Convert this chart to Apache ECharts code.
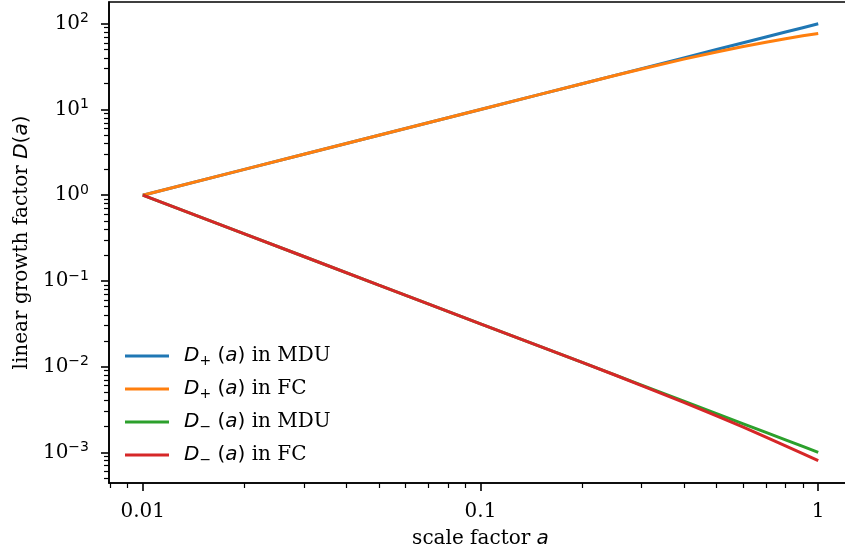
<!DOCTYPE html>
<html>
<head>
<meta charset="utf-8">
<script src="https://cdn.jsdelivr.net/npm/echarts@6/dist/echarts.min.js"></script>
<style>html,body{margin:0;padding:0;background:#fff}#c{width:845px;height:554px}</style>
</head>
<body>
<div id="c"></div>
<script>
// ---- data ----
const scaleFactor = [0.01, 0.02, 0.03, 0.05, 0.07, 0.1, 0.15, 0.2, 0.25, 0.3, 0.4, 0.5, 0.6, 0.7, 0.8, 0.9, 1.0];
const dPlusMDU  = [1, 2, 3, 5, 7, 10, 15, 20, 25, 30, 40, 50, 60, 70, 80, 90, 100];
const dPlusFC   = [1, 2, 3, 5, 7, 10, 15, 20, 24.9, 29.7, 38.7, 46.9, 54.4, 60.9, 66.9, 72.3, 77.1];
const dMinusMDU = [1, 0.3536, 0.1925, 0.0894, 0.054, 0.0316, 0.0172, 0.01118, 0.0080, 0.006086, 0.003953, 0.002828, 0.002152, 0.001707, 0.0013975, 0.001171, 0.001];
const dMinusFC  = [1, 0.3536, 0.1925, 0.0894, 0.054, 0.0316, 0.0172, 0.01118, 0.00798, 0.006007, 0.003827, 0.002667, 0.001965, 0.0015, 0.001186, 0.000963, 0.000798];
const seriesNames = ['D+ MDU', 'D+ FC', 'D- MDU', 'D- FC'];
const legendLabels = {
  'D+ MDU': '{i|D}{sub|+}{p| (}{i|a}{p|)}{r| in MDU}',
  'D+ FC':  '{i|D}{sub|+}{p| (}{i|a}{p|)}{r| in FC}',
  'D- MDU': '{i|D}{sub|\u2212}{p| (}{i|a}{p|)}{r| in MDU}',
  'D- FC':  '{i|D}{sub|\u2212}{p| (}{i|a}{p|)}{r| in FC}'
};
const xTickValues = [0.01, 0.1, 1];
const xTickLabels = ['0.01', '0.1', '1'];
const yTickExponents = [-3, -2, -1, 0, 1, 2];
const colors = ['#1f77b4', '#ff7f0e', '#2ca02c', '#d62728'];

// ---- helpers ----
const L = Math.log10;
const xMin = -2.1, xMax = 0.1;
const yMin = -3.358, yMax = 2.254;
function minorTicks(lo, hi) {
  const out = [];
  for (let n = -5; n <= 3; n++) {
    for (let k = 2; k <= 9; k++) {
      const v = L(k) + n;
      if (v >= lo && v <= hi) out.push(v);
    }
  }
  return out;
}
const serif = 'DejaVu Serif';
const sans = 'DejaVu Sans';
const FS = 20;
const SFS = 14;
const supStyle = { fontFamily: sans, fontSize: SFS, color: '#000', lineHeight: 15, verticalAlign: 'top' };
const tenStyle = { fontFamily: serif, fontSize: FS, color: '#000', lineHeight: 24 };

const allSeries = [dPlusMDU, dPlusFC, dMinusMDU, dMinusFC];
const series = allSeries.map((vals, i) => ({
  name: seriesNames[i],
  type: 'line',
  xAxisIndex: 0,
  yAxisIndex: 0,
  data: scaleFactor.map((a, j) => [L(a), L(vals[j])]),
  showSymbol: false,
  symbol: 'none',
  lineStyle: { width: 3, color: colors[i] },
  itemStyle: { color: colors[i] },
  z: 2 + i,
  animation: false
}));

const chart = echarts.init(document.getElementById('c'), null, { renderer: 'canvas' });
chart.setOption({
  animation: false,
  backgroundColor: '#ffffff',
  grid: {
    left: 109, top: 2, width: 743, bottom: 71,
    outerBoundsMode: 'none', containLabel: false,
    show: true, borderColor: '#000', borderWidth: 1.6, backgroundColor: 'transparent'
  },
  xAxis: [
    {
      type: 'value', min: xMin, max: xMax, position: 'bottom',
      name: '{s|scale factor }{i|a}', nameLocation: 'middle', nameGap: 44,
      nameTextStyle: {
        rich: {
          s: { fontFamily: serif, fontSize: FS, color: '#000', lineHeight: 24 },
          i: { fontFamily: sans, fontStyle: 'italic', fontSize: FS, color: '#000', lineHeight: 24 }
        }
      },
      axisLine: { show: true, onZero: false, lineStyle: { color: '#000', width: 1.6 } },
      axisTick: { show: true, length: 8, lineStyle: { color: '#000', width: 1.6 }, customValues: xTickValues.map(L) },
      axisLabel: {
        show: true, margin: 19, customValues: xTickValues.map(L),
        fontFamily: serif, fontSize: FS, color: '#000',
        formatter: function (v) {
          const idx = xTickValues.findIndex(t => Math.abs(L(t) - v) < 1e-6);
          return idx >= 0 ? xTickLabels[idx] : '';
        }
      },
      splitLine: { show: false }
    },
    {
      type: 'value', min: xMin, max: xMax, position: 'bottom', gridIndex: 0,
      axisLine: { show: false, onZero: false },
      axisTick: { show: true, length: 5, lineStyle: { color: '#000', width: 1.2 }, customValues: minorTicks(xMin, xMax) },
      axisLabel: { show: false },
      splitLine: { show: false }
    }
  ],
  yAxis: [
    {
      type: 'value', min: yMin, max: yMax, position: 'left',
      name: '{s|linear growth factor }{i|D}{p|(}{i|a}{p|)}', nameLocation: 'middle', nameGap: 73,
      nameTextStyle: {
        rich: {
          s: { fontFamily: serif, fontSize: FS, color: '#000', lineHeight: 24 },
          i: { fontFamily: sans, fontStyle: 'italic', fontSize: FS, color: '#000', lineHeight: 24 },
          p: { fontFamily: sans, fontSize: FS, color: '#000', lineHeight: 24 }
        }
      },
      axisLine: { show: true, onZero: false, lineStyle: { color: '#000', width: 1.6 } },
      axisTick: { show: true, length: 8, lineStyle: { color: '#000', width: 1.6 }, customValues: yTickExponents },
      axisLabel: {
        show: true, margin: 20, customValues: yTickExponents,
        formatter: function (v) {
          const e = Math.round(v);
          const s = e < 0 ? '\u2212' + Math.abs(e) : String(e);
          return '{b|10}{sup|' + s + '}';
        },
        rich: { b: tenStyle, sup: supStyle }
      },
      splitLine: { show: false }
    },
    {
      type: 'value', min: yMin, max: yMax, position: 'left', gridIndex: 0,
      axisLine: { show: false, onZero: false },
      axisTick: { show: true, length: 5, lineStyle: { color: '#000', width: 1.2 }, customValues: minorTicks(yMin, yMax) },
      axisLabel: { show: false },
      splitLine: { show: false }
    }
  ],
  legend: {
    orient: 'vertical', left: 120, top: 341,
    itemWidth: 44, itemHeight: 3, itemGap: 11, icon: 'rect',
    data: seriesNames,
    formatter: function (name) { return legendLabels[name]; },
    textStyle: {
      padding: [0, 0, 0, 10],
      rich: {
        i: { fontFamily: sans, fontStyle: 'italic', fontSize: FS, color: '#000', lineHeight: 24 },
        p: { fontFamily: sans, fontSize: FS, color: '#000', lineHeight: 24 },
        r: { fontFamily: serif, fontSize: FS, color: '#000', lineHeight: 24 },
        sub: { fontFamily: sans, fontSize: SFS, color: '#000', lineHeight: 13, verticalAlign: 'bottom' }
      }
    }
  },
  series: series
});
</script>
</body>
</html>
